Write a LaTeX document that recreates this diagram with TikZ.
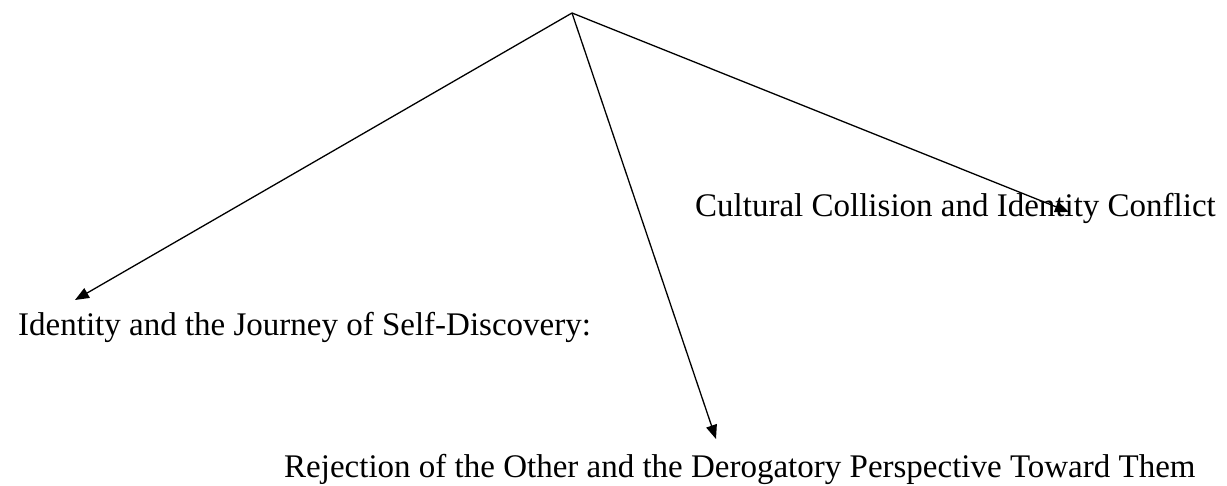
\documentclass[tikz,border=0pt]{standalone}
\usepackage{fontspec}
\setmainfont{Liberation Serif}
\usetikzlibrary{arrows.meta}

\begin{document}
\begin{tikzpicture}[x=1pt,y=-1pt,
		theme/.style={anchor=base west,inner sep=0pt,font=\fontsize{33}{38}\selectfont},
		branch/.style={line width=1.3pt,-{Triangle[length=14pt,width=11pt]}}]
	%%%%% START %%%%%
	\def\apx{572}
	\def\apy{13}
	\useasboundingbox (0,0) rectangle (1227,486);
	
	\coordinate (root) at (\apx,\apy);
	
	\node[theme] (self) at (18,336) {Identity and the Journey of Self-Discovery:};
	\node[theme] (clash) at (695,217) {Cultural Collision and Identity Conflict};
	\node[theme] (other) at (284,477) {Rejection of the Other and the Derogatory Perspective Toward Them};
	
	\coordinate (selftip) at (75,300);
	\coordinate (clashtip) at (1069,212);
	\coordinate (othertip) at (716,439);
	
	\draw[branch] (root) -- (selftip);
	\draw[branch] (root) -- (othertip);
	\draw[branch] (root) -- (clashtip);
	%%%%% END %%%%%
\end{tikzpicture}
\end{document}
